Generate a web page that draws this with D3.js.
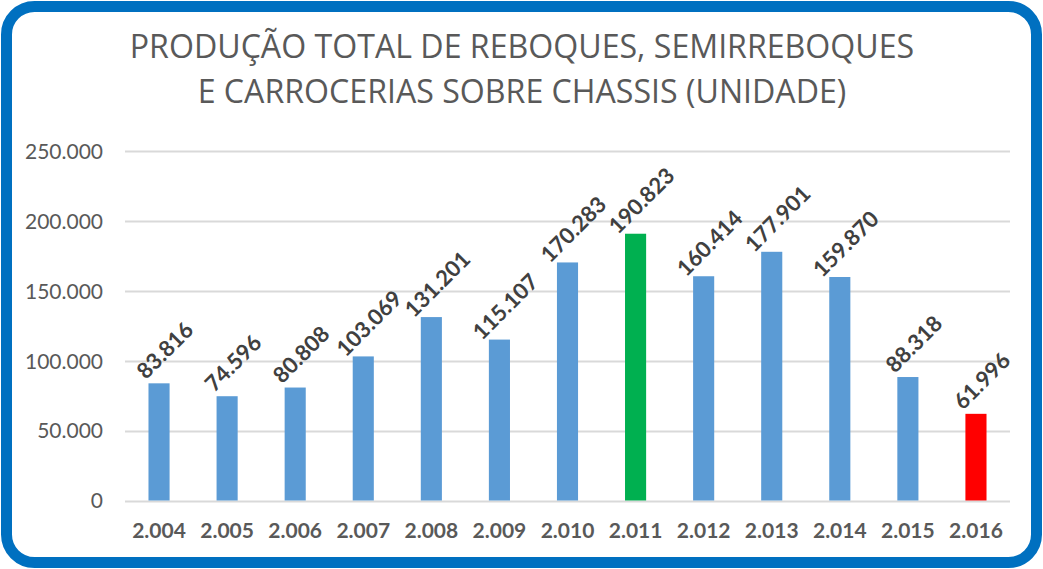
<!DOCTYPE html>
<html><head><meta charset="utf-8">
<script src="https://cdn.jsdelivr.net/npm/d3@7"></script>
<style>html,body{margin:0;padding:0;background:#fff;}svg{display:block;}</style>
</head><body>
<svg id="c" width="1043" height="569"></svg>
<script>
const categories = ["2.004","2.005","2.006","2.007","2.008","2.009","2.010","2.011","2.012","2.013","2.014","2.015","2.016"];
const values = [83816, 74596, 80808, 103069, 131201, 115107, 170283, 190823, 160414, 177901, 159870, 88318, 61996];
const barColors = ["#5B9BD5","#5B9BD5","#5B9BD5","#5B9BD5","#5B9BD5","#5B9BD5","#5B9BD5","#00B050","#5B9BD5","#5B9BD5","#5B9BD5","#5B9BD5","#FF0000"];
const yTicks = [0, 50000, 100000, 150000, 200000, 250000];
const titleLines = ["PRODUÇÃO TOTAL DE REBOQUES, SEMIRREBOQUES", "E CARROCERIAS SOBRE CHASSIS (UNIDADE)"];

const svg = d3.select("#c");
const font = "Lato, 'Open Sans', sans-serif";
const fmt = v => d3.format(",")(v).replace(/,/g, ".");

// frame
svg.append("rect").attr("x", 6.5).attr("y", 6.5).attr("width", 1030).attr("height", 556)
  .attr("rx", 28).attr("ry", 28).attr("fill", "#fff").attr("stroke", "#0070C0").attr("stroke-width", 11);

// title
const title = svg.append("g").selectAll("text").data(titleLines).join("text")
  .attr("x", 522).attr("y", (d, i) => 58 + i * 45)
  .attr("text-anchor", "middle").attr("font-family", "'Open Sans', sans-serif").attr("font-size", 28)
  .attr("fill", "#595959").text(d => d);
const w0 = title.nodes()[0].getComputedTextLength();
title.attr("font-size", 28 * 785 / w0);

const x = d3.scaleBand().domain(categories).range([125, 1010]).paddingInner(0.69).paddingOuter(0.345);
const y = d3.scaleLinear().domain([0, 250000]).range([500.5, 151]);

// gridlines
svg.append("g").selectAll("line").data(yTicks).join("line")
  .attr("x1", 125).attr("x2", 1010).attr("y1", d => Math.round(y(d)) + 0.5).attr("y2", d => Math.round(y(d)) + 0.5)
  .attr("stroke", "#D9D9D9").attr("stroke-width", 2);

// y axis labels
const yAxis = d3.axisLeft(y).tickValues(yTicks).tickFormat(fmt).tickSize(0).tickPadding(0);
const yg = svg.append("g").attr("transform", "translate(103,0)").call(yAxis);
yg.select(".domain").remove();
yg.selectAll("text").attr("font-family", font).attr("font-size", 21).attr("fill", "#595959").attr("dy", "0.35em");

// x axis labels
const xAxis = d3.axisBottom(x).tickSize(0).tickPadding(0);
const xg = svg.append("g").attr("transform", "translate(0,538)").call(xAxis);
xg.select(".domain").remove();
xg.selectAll("text").attr("font-family", font).attr("font-size", 21).attr("font-weight", "bold").attr("fill", "#595959").attr("dy", 0);

// bars
svg.append("g").selectAll("rect").data(values).join("rect")
  .attr("x", (d, i) => x(categories[i])).attr("width", x.bandwidth())
  .attr("y", d => y(d)).attr("height", d => y(0) - y(d))
  .attr("fill", (d, i) => barColors[i]);

// value labels
svg.append("g").selectAll("text").data(values).join("text")
  .attr("transform", (d, i) => `translate(${x(categories[i]) + x.bandwidth() / 2 + 6},${y(d) - 33}) rotate(-45)`)
  .attr("text-anchor", "middle").attr("dy", "0.35em")
  .attr("font-family", font).attr("font-size", 22).attr("font-weight", "bold").attr("fill", "#404040")
  .text(d => fmt(d));
</script>
</body></html>
